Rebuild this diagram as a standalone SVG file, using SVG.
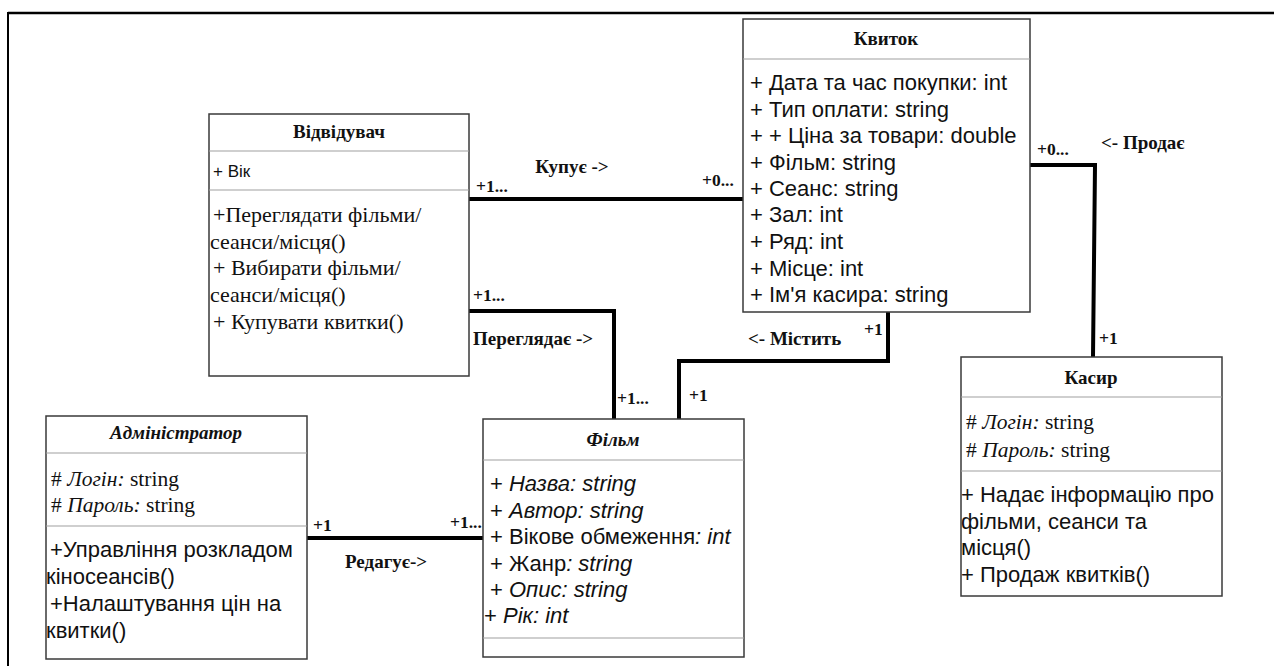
<svg xmlns="http://www.w3.org/2000/svg" width="1274" height="666" viewBox="0 0 1274 666">
  <style>
    .box { fill: #ffffff; stroke: #3a3a3a; stroke-width: 1.5; }
    .div { stroke: #a0a0a0; stroke-width: 1.2; fill: none; }
    .title { font-family: "Liberation Serif", serif; font-weight: bold; font-size: 19px; fill: #111; text-anchor: middle; }
    .ititle { font-style: italic; }
    .sans { font-family: "Liberation Sans", Arial, sans-serif; font-size: 22px; fill: #111; }
    .serif { font-family: "Liberation Serif", serif; font-size: 22px; fill: #111; }
    .attr { font-family: "Liberation Serif", serif; font-size: 21.5px; fill: #111; }
    .small { font-family: "Liberation Sans", Arial, sans-serif; font-size: 17px; fill: #111; }
    .it { font-style: italic; }
    .link { stroke: #000; stroke-width: 4; fill: none; stroke-linejoin: miter; }
    .lbl { font-family: "Liberation Serif", serif; font-weight: bold; font-size: 19px; fill: #111; }
    .mult { font-family: "Liberation Serif", serif; font-weight: bold; font-size: 17.5px; fill: #111; }
    .frame { stroke: #000; fill: none; }
  </style>

  <!-- page frame -->
  <line class="frame" x1="8" y1="13" x2="1274" y2="13" stroke-width="2.5"/>
  <line class="frame" x1="8" y1="12" x2="8" y2="666" stroke-width="2"/>

  <!-- associations -->
  <g id="connectors">
    <!-- Купує -->
    <line class="link" x1="469" y1="199" x2="743" y2="199"/>
    <text class="lbl" x="572" y="173" text-anchor="middle">Купує -&gt;</text>
    <text class="mult" x="476" y="192">+1...</text>
    <text class="mult" x="702" y="186">+0...</text>

    <!-- Переглядає -->
    <polyline class="link" points="469,311 614,311 614,419"/>
    <text class="lbl" x="473" y="345">Переглядає -&gt;</text>
    <text class="mult" x="473" y="301">+1...</text>
    <text class="mult" x="617" y="404">+1...</text>

    <!-- Містить -->
    <polyline class="link" points="679,419 679,361 888,361 888,312"/>
    <text class="lbl" x="748" y="345">&lt;- Містить</text>
    <text class="mult" x="864" y="335">+1</text>
    <text class="mult" x="689" y="401">+1</text>

    <!-- Продає -->
    <polyline class="link" points="1030,165 1095,165 1093,357"/>
    <text class="lbl" x="1101" y="149">&lt;- Продає</text>
    <text class="mult" x="1037" y="155">+0...</text>
    <text class="mult" x="1099" y="344">+1</text>

    <!-- Редагує -->
    <line class="link" x1="307" y1="538" x2="483" y2="538"/>
    <text class="lbl" x="345" y="568">Редагує-&gt;</text>
    <text class="mult" x="313" y="531">+1</text>
    <text class="mult" x="450" y="528">+1...</text>
  </g>

  <!-- Відвідувач -->
  <g id="vidviduvach">
    <rect class="box" x="209" y="114" width="260" height="262"/>
    <line class="div" x1="209" y1="151" x2="469" y2="151"/>
    <line class="div" x1="209" y1="190" x2="469" y2="190"/>
    <text class="title" x="339" y="138">Відвідувач</text>
    <text class="small" x="213" y="177">+ Вік</text>
    <text class="serif" x="213" y="222">+Переглядати фільми/</text>
    <text class="serif" x="210" y="249">сеанси/місця()</text>
    <text class="serif" x="213" y="275">+ Вибирати фільми/</text>
    <text class="serif" x="210" y="302">сеанси/місця()</text>
    <text class="serif" x="213" y="329">+ Купувати квитки()</text>
  </g>

  <!-- Квиток -->
  <g id="kvytok">
    <rect class="box" x="743" y="19" width="287" height="293"/>
    <line class="div" x1="743" y1="59" x2="1030" y2="59"/>
    <text class="title" x="886" y="45">Квиток</text>
    <text class="sans" x="750" y="90">+ Дата та час покупки: int</text>
    <text class="sans" x="750" y="117">+ Тип оплати: string</text>
    <text class="sans" x="750" y="143">+ + Ціна за товари: double</text>
    <text class="sans" x="750" y="170">+ Фільм: string</text>
    <text class="sans" x="750" y="196">+ Сеанс: string</text>
    <text class="sans" x="750" y="222">+ Зал: int</text>
    <text class="sans" x="750" y="249">+ Ряд: int</text>
    <text class="sans" x="750" y="276">+ Місце: int</text>
    <text class="sans" x="750" y="302">+ Ім'я касира: string</text>
  </g>

  <!-- Касир -->
  <g id="kasyr">
    <rect class="box" x="961" y="357" width="261" height="239"/>
    <line class="div" x1="961" y1="397" x2="1222" y2="397"/>
    <line class="div" x1="961" y1="471" x2="1222" y2="471"/>
    <text class="title" x="1091" y="384">Касир</text>
    <text class="attr" x="966" y="429"># <tspan class="it">Логін:</tspan> string</text>
    <text class="attr" x="966" y="457"># <tspan class="it">Пароль:</tspan> string</text>
    <text class="sans" x="961" y="502">+ Надає інформацію про</text>
    <text class="sans" x="961" y="529">фільми, сеанси та</text>
    <text class="sans" x="961" y="555">місця()</text>
    <text class="sans" x="961" y="582">+ Продаж квитків()</text>
  </g>

  <!-- Адміністратор -->
  <g id="administrator">
    <rect class="box" x="46" y="416" width="261" height="243"/>
    <line class="div" x1="46" y1="453" x2="307" y2="453"/>
    <line class="div" x1="46" y1="526" x2="307" y2="526"/>
    <text class="title ititle" x="176" y="439">Адміністратор</text>
    <text class="attr" x="51" y="486"># <tspan class="it">Логін:</tspan> string</text>
    <text class="attr" x="51" y="512"># <tspan class="it">Пароль:</tspan> string</text>
    <text class="sans" x="50" y="557">+Управління розкладом</text>
    <text class="sans" x="46" y="584">кіносеансів()</text>
    <text class="sans" x="50" y="611">+Налаштування цін на</text>
    <text class="sans" x="46" y="638">квитки()</text>
  </g>

  <!-- Фільм -->
  <g id="film">
    <rect class="box" x="483" y="419" width="261" height="238"/>
    <line class="div" x1="483" y1="460" x2="744" y2="460"/>
    <line class="div" x1="483" y1="638" x2="744" y2="638"/>
    <text class="title ititle" x="613" y="446">Фільм</text>
    <text class="sans" x="490" y="491">+ <tspan class="it">Назва: string</tspan></text>
    <text class="sans" x="490" y="518">+ <tspan class="it">Автор: string</tspan></text>
    <text class="sans" x="490" y="544">+ Вікове обмеження<tspan class="it">: int</tspan></text>
    <text class="sans" x="490" y="571">+ Жанр<tspan class="it">: string</tspan></text>
    <text class="sans" x="490" y="597">+ <tspan class="it">Опис: string</tspan></text>
    <text class="sans" x="484" y="623">+ <tspan class="it">Рік: int</tspan></text>
  </g>
</svg>
